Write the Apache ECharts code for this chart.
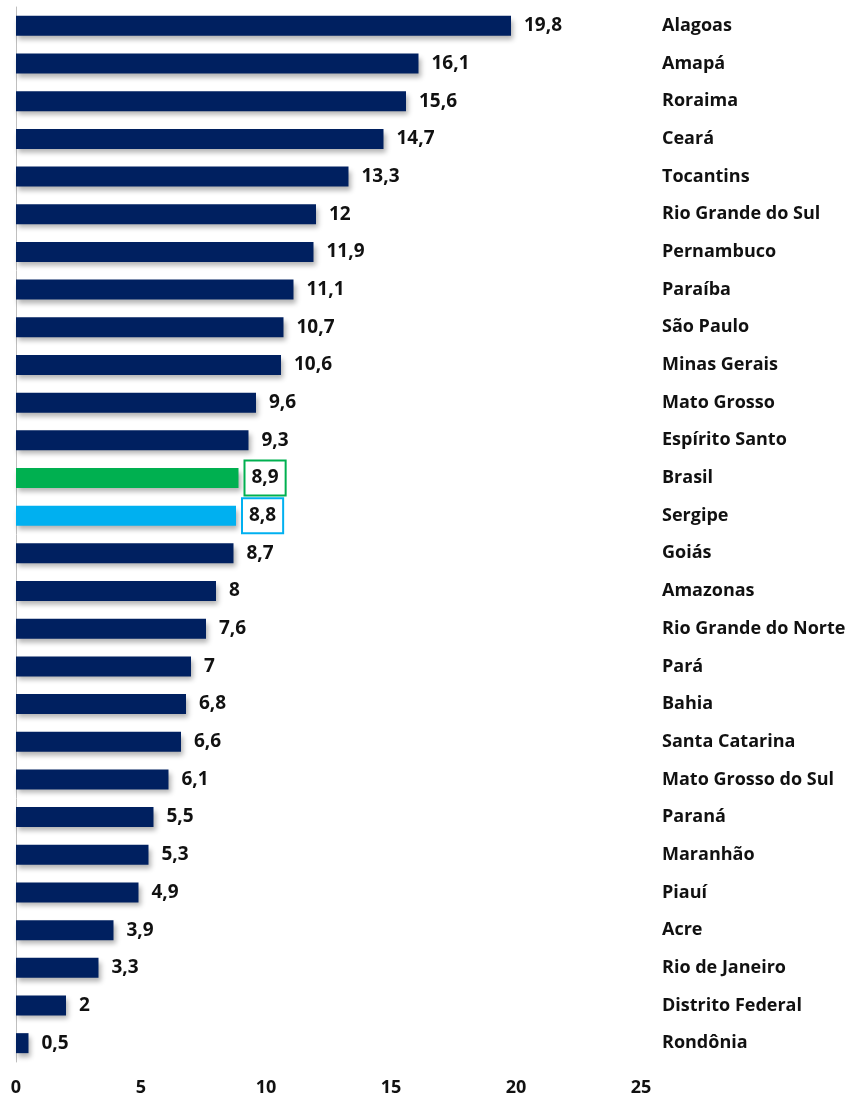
<!DOCTYPE html>
<html lang="pt">
<head>
    <meta charset="UTF-8">
    <title>Ranking por estado</title>
    <style>
        body {
            margin: 0;
            background-color: #ffffff;
        }

        #chart {
            width: 852px;
            height: 1097px;
        }
    </style>
</head>
<body>

    <div id="chart"></div>

    <script src="https://cdn.jsdelivr.net/npm/echarts@6/dist/echarts.min.js"></script>
    <script>

        // estados (de cima para baixo)
        const states = [
            'Alagoas', 'Amapá', 'Roraima', 'Ceará', 'Tocantins', 'Rio Grande do Sul',
            'Pernambuco', 'Paraíba', 'São Paulo', 'Minas Gerais', 'Mato Grosso',
            'Espírito Santo', 'Brasil', 'Sergipe', 'Goiás', 'Amazonas',
            'Rio Grande do Norte', 'Pará', 'Bahia', 'Santa Catarina',
            'Mato Grosso do Sul', 'Paraná', 'Maranhão', 'Piauí', 'Acre',
            'Rio de Janeiro', 'Distrito Federal', 'Rondônia'
        ];

        // valores
        const values = [
            19.8, 16.1, 15.6, 14.7, 13.3, 12,
            11.9, 11.1, 10.7, 10.6, 9.6,
            9.3, 8.9, 8.8, 8.7, 8,
            7.6, 7, 6.8, 6.6,
            6.1, 5.5, 5.3, 4.9, 3.9,
            3.3, 2, 0.5
        ];

        // marcas do eixo x
        const xTicks = [0, 5, 10, 15, 20, 25];

        const navy = '#002060';
        const highlight = {
            'Brasil': '#00b050',
            'Sergipe': '#00b0f0'
        };

        const chart = echarts.init(document.getElementById('chart'));

        const fmt = v => String(v).replace('.', ',');

        const barData = states.map((name, i) => {
            const item = { value: values[i] };
            const c = highlight[name];
            if (c) {
                item.itemStyle = { color: c };
                item.label = {
                    distance: 7,
                    borderColor: c,
                    borderWidth: 2,
                    padding: [8, 6, 6, 6],
                    backgroundColor: '#fff'
                };
            }
            return item;
        });

        const font = '"Open Sans", "Noto Sans", sans-serif';

        const option = {
            animation: false,
            grid: {
                left: 16,
                right: 211,
                top: 7,
                bottom: 35,
            },
            xAxis: {
                type: 'value',
                min: xTicks[0],
                max: xTicks[xTicks.length - 1],
                interval: 5,
                axisLine: { show: false },
                axisTick: { show: false },
                splitLine: { show: false },
                axisLabel: {
                    color: '#111',
                    fontWeight: 'bold',
                    fontSize: 18,
                    fontFamily: font,
                    margin: 17,
                },
            },
            yAxis: [
                {
                    type: 'category',
                    data: states,
                    inverse: true,
                    position: 'right',
                    axisLine: { show: false },
                    axisTick: { show: false },
                    axisLabel: {
                        color: '#111',
                        fontWeight: 'bold',
                        fontSize: 18,
                        fontFamily: font,
                        align: 'left',
                        margin: 21,
                    },
                },
                {
                    type: 'category',
                    data: states,
                    inverse: true,
                    position: 'left',
                    axisLine: {
                        show: true,
                        lineStyle: { color: '#bfbfbf', width: 1 },
                    },
                    axisTick: { show: false },
                    axisLabel: { show: false },
                }
            ],
            series: [
                {
                    type: 'bar',
                    data: barData,
                    barWidth: 20,
                    itemStyle: {
                        color: navy,
                        shadowColor: 'rgba(0, 0, 0, 0.3)',
                        shadowBlur: 5,
                        shadowOffsetX: 2,
                        shadowOffsetY: 4,
                    },
                    label: {
                        show: true,
                        position: 'right',
                        distance: 13,
                        color: '#111',
                        fontWeight: 'bold',
                        fontSize: 19,
                        fontFamily: font,
                        formatter: p => fmt(p.value),
                    },
                }
            ]
        };

        chart.setOption(option);

    </script>
</body>
</html>
